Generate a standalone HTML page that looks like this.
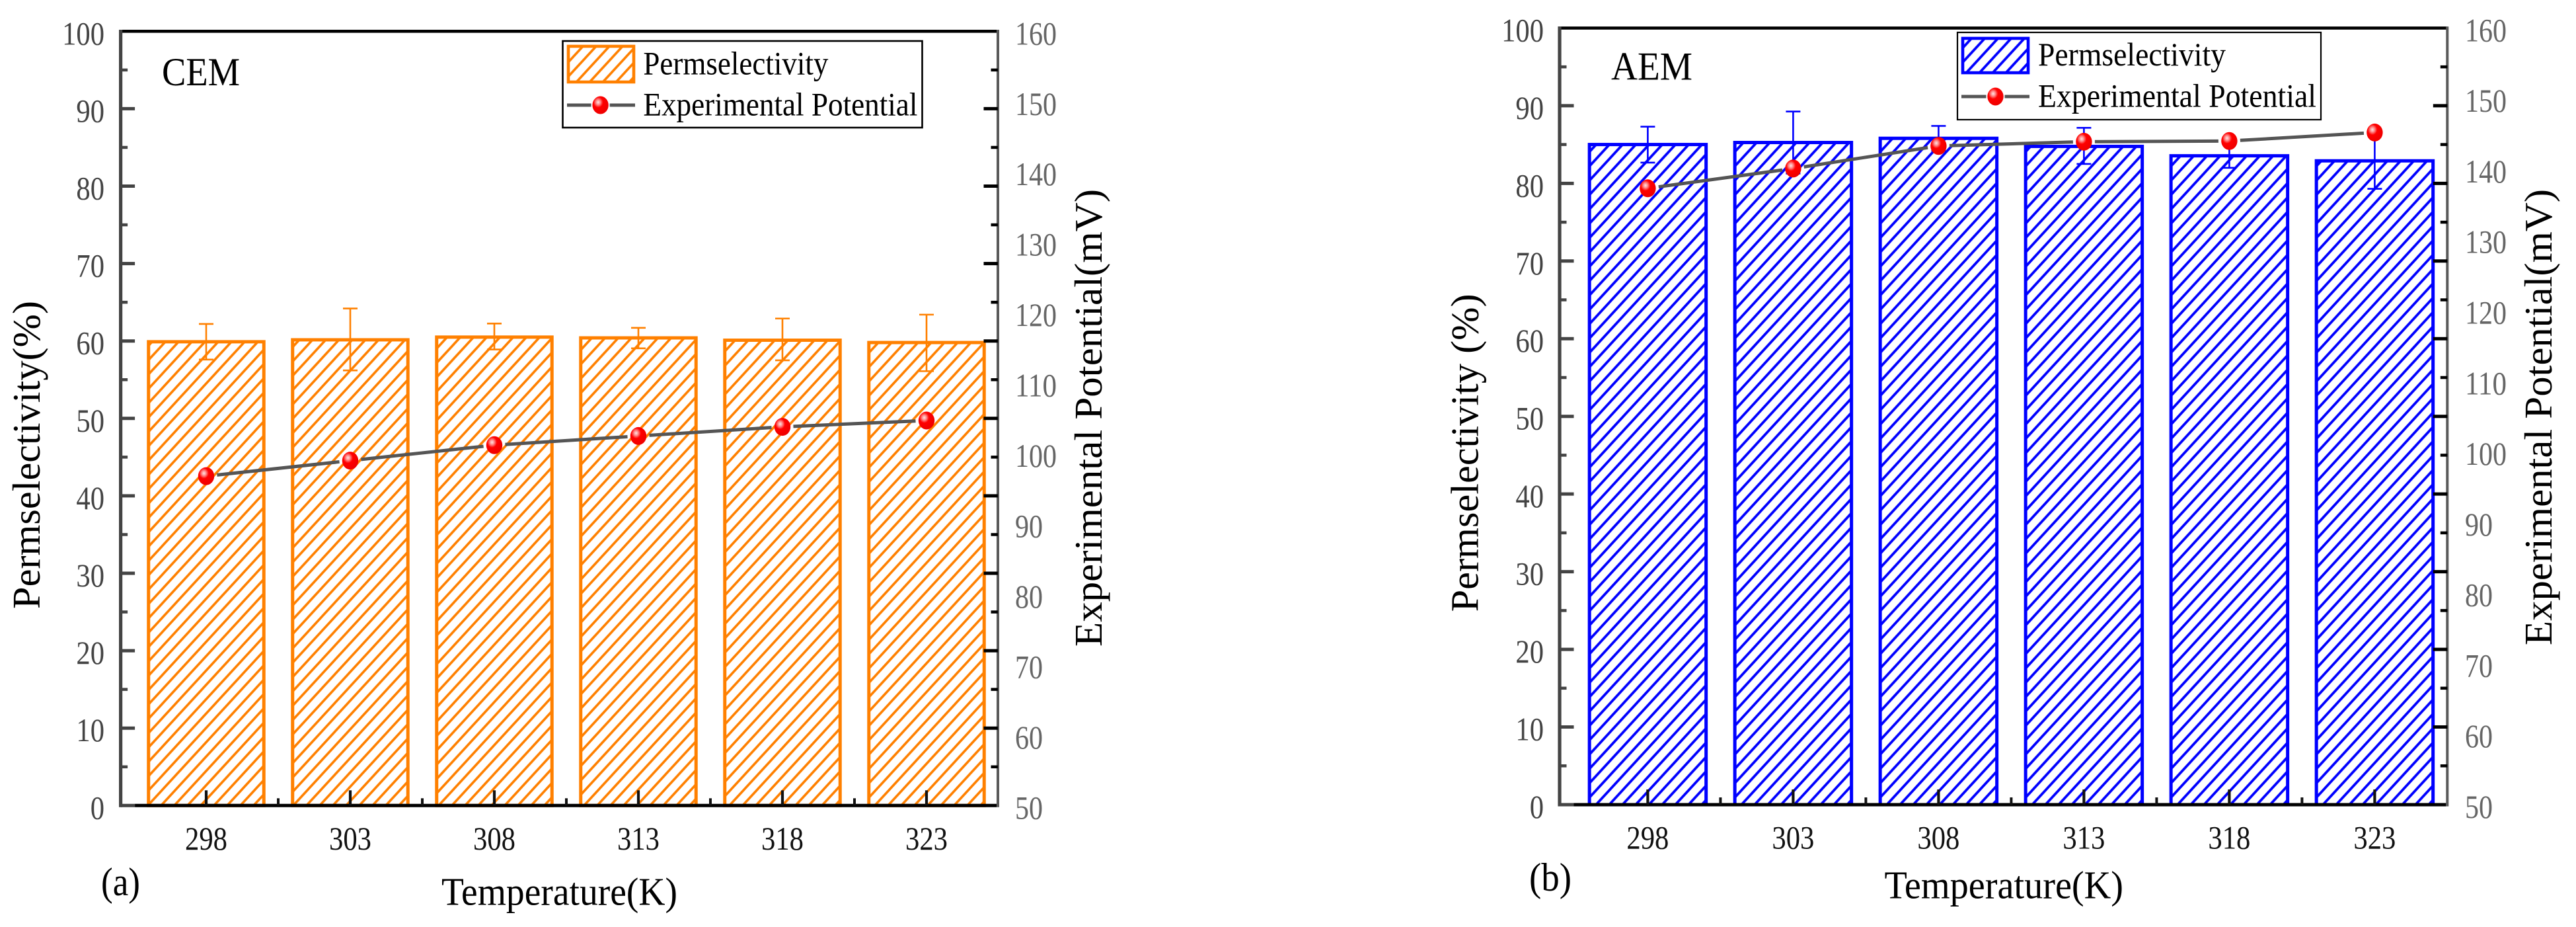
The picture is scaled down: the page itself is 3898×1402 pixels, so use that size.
<!DOCTYPE html>
<html lang="en">
<head>
<meta charset="utf-8">
<title>Permselectivity and experimental potential of CEM and AEM</title>
<style>
  html, body { margin: 0; padding: 0; background: #fff; width: 3898px; height: 1402px; overflow: hidden; }
  svg { position: absolute; left: 0; top: 0; display: block; }
  text { font-family: "Liberation Serif", "Times New Roman", serif; }
</style>
</head>
<body>
<svg id="chart" xmlns="http://www.w3.org/2000/svg" width="3898" height="1402" viewBox="0 0 3898 1402">
  <defs>
    <pattern id="hatch-orange" patternUnits="userSpaceOnUse" width="20" height="21.7" patternTransform="translate(6.6,0)">
      <path d="M-2 23.87 L22 -2.17 M-2 2.17 L2 -2.17 M18 23.87 L22 19.53" stroke="#FF8000" stroke-width="3.6" fill="none"/>
    </pattern>
    <pattern id="hatch-blue" patternUnits="userSpaceOnUse" width="20" height="21.7" patternTransform="translate(16.8,0)">
      <path d="M-2 23.87 L22 -2.17 M-2 2.17 L2 -2.17 M18 23.87 L22 19.53" stroke="#0000FF" stroke-width="3.8" fill="none"/>
    </pattern>
    <radialGradient id="marker-shine" cx="0.36" cy="0.34" r="0.62">
      <stop offset="0" stop-color="#FFE4E4"/>
      <stop offset="0.22" stop-color="#FF8C8C"/>
      <stop offset="0.48" stop-color="#FF0000"/>
      <stop offset="1" stop-color="#F00000"/>
    </radialGradient>
  </defs>
  <rect x="0" y="0" width="3898" height="1402" fill="#ffffff"/>
</svg>
<script>
// ---- chart data ----
const categories = ['298', '303', '308', '313', '318', '323'];
const leftTickLabels = [0, 10, 20, 30, 40, 50, 60, 70, 80, 90, 100];
const leftMinorTicks = [5, 15, 25, 35, 45, 55, 65, 75, 85, 95];
const rightTickLabels = [50, 60, 70, 80, 90, 100, 110, 120, 130, 140, 150, 160];

const cemPermselectivity = [59.9, 60.15, 60.5, 60.4, 60.1, 59.8];
const cemErrorUpper = [62.2, 64.2, 62.25, 61.7, 62.9, 63.4];
const cemErrorLower = [57.6, 56.2, 58.9, 59.05, 57.5, 56.1];
const cemPotential = [96.8, 99.0, 101.2, 102.5, 103.8, 104.7];

const aemPermselectivity = [85.0, 85.26, 85.8, 84.76, 83.55, 82.9];
const aemErrorUpper = [87.3, 89.25, 87.4, 87.15, 85.1, 86.5];
const aemErrorLower = [82.67, 81.27, 84.2, 82.5, 82.0, 79.3];
const aemPotential = [137.3, 140.1, 143.3, 143.9, 144.0, 145.2];

const leftDomain = [0, 100];
const rightDomain = [50, 160];

// ---- layout of the two panels ----
const cemLayout = {
  id: 'cem', color: '#FF8000', hatch: 'url(#hatch-orange)',
  perm: cemPermselectivity, up: cemErrorUpper, low: cemErrorLower, pot: cemPotential,
  axisL: 182.6, axisR: 1510, y0: 1218.3, yTop: 47.3, x0: 312, dx: 218, barW: 174.5,
  leftLabelEnd: 158, rightLabelStart: 1536, xLabelBase: 1285,
  tag: 'CEM', tagX: 245, tagW: 118, tagBase: 129,
  sub: '(a)', subX: 153, subW: 59, subBase: 1354,
  xTitleX: 668, xTitleW: 357, xTitleBase: 1368.7,
  lTitle: 'Permselectivity(%)', lTitleX: 60, lTitleY: 921, lTitleL: 466,
  rTitleX: 1667, rTitleY: 978, rTitleL: 692,
  legend: { x: 851.5, y: 62, w: 544, h: 131, sw: 2.6, sx: 858, sy: 68, sW: 103, sH: 58, lineY: 159, mx: 908.6,
            tx: 973.4, t1W: 280, t1B: 112.7, t2W: 415, t2B: 174.3 }
};
const aemLayout = {
  id: 'aem', color: '#0000FF', hatch: 'url(#hatch-blue)',
  perm: aemPermselectivity, up: aemErrorUpper, low: aemErrorLower, pot: aemPotential,
  axisL: 2360, axisR: 3703.3, y0: 1217, yTop: 42.4, x0: 2493.4, dx: 220, barW: 176.5,
  leftLabelEnd: 2336, rightLabelStart: 3730, xLabelBase: 1283.5,
  tag: 'AEM', tagX: 2438, tagW: 123, tagBase: 120.5,
  sub: '(b)', subX: 2314, subW: 64, subBase: 1347,
  xTitleX: 2851.5, xTitleW: 361.5, xTitleBase: 1358.5,
  lTitle: 'Permselectivity (%)', lTitleX: 2236.7, lTitleY: 925.4, lTitleL: 481,
  rTitleX: 3861, rTitleY: 976, rTitleL: 690,
  legend: { x: 2962, y: 49, w: 550, h: 132, sw: 2.2, sx: 2968, sy: 56, sW: 103, sH: 56, lineY: 146, mx: 3019.5,
            tx: 3084, t1W: 284, t1B: 99, t2W: 421, t2B: 161.6 }
};

const NS = 'http://www.w3.org/2000/svg';
const root = document.getElementById('chart');

function make(tag, attrs, parent) {
  const node = document.createElementNS(NS, tag);
  for (const key in attrs) node.setAttribute(key, attrs[key]);
  parent.appendChild(node);
  return node;
}
function label(str, x, y, size, width, fill, parent) {
  const t = make('text', { x: x, y: y, 'font-size': size, fill: fill, textLength: width, lengthAdjust: 'spacingAndGlyphs' }, parent);
  t.textContent = str;
  return t;
}
function rotatedLabel(str, x, y, size, width, fill, parent) {
  const t = make('text', { x: 0, y: 0, 'font-size': size, fill: fill, textLength: width, lengthAdjust: 'spacingAndGlyphs',
    transform: 'translate(' + x + ',' + y + ') rotate(-90)' }, parent);
  t.textContent = str;
  return t;
}
function marker(cx, cy, parent) {
  return make('ellipse', { cx: cx, cy: cy, rx: 12.2, ry: 13.5, fill: 'url(#marker-shine)' }, parent);
}

function drawPanel(p) {
  const g = make('g', {}, root);
  
  

  const xPos = i => p.x0 + i * p.dx;
  const yLeft = v => p.y0 - (v - leftDomain[0]) / (leftDomain[1] - leftDomain[0]) * (p.y0 - p.yTop);
  const yRight = v => p.y0 - (v - rightDomain[0]) / (rightDomain[1] - rightDomain[0]) * (p.y0 - p.yTop);

  // bars
  categories.forEach((c, i) => {
    const top = yLeft(p.perm[i]);
    const bg = make('rect', { x: xPos(i) - p.barW / 2, y: top, width: p.barW, height: p.y0 - top, fill: '#fff' }, g);
    
    
    const bar = make('rect', { x: xPos(i) - p.barW / 2, y: top, width: p.barW, height: p.y0 - top, fill: p.hatch, stroke: p.color, 'stroke-width': 5 }, g);
    
    
  });

  // error bars
  categories.forEach((c, i) => {
    const e = make('path', {
      d: 'M' + xPos(i) + ' ' + yLeft(p.up[i]) + 'V' + yLeft(p.low[i]) +
         'M' + (xPos(i) - 11) + ' ' + yLeft(p.up[i]) + 'h22' +
         'M' + (xPos(i) - 11) + ' ' + yLeft(p.low[i]) + 'h22',
      stroke: p.color, 'stroke-width': 2.6, fill: 'none' }, g);
    
    
  });

  // frame
  const topLine = make('line', { x1: p.axisL - 2.5, x2: p.axisR, y1: p.yTop, y2: p.yTop, stroke: '#000', 'stroke-width': 4.6 }, g);
  
  
  const leftAxis = make('line', { x1: p.axisL, x2: p.axisL, y1: p.yTop - 2.3, y2: p.y0 + 2.5, stroke: '#444', 'stroke-width': 5.2 }, g);
  
  
  const rightAxis = make('line', { x1: p.axisR, x2: p.axisR, y1: p.yTop - 2.3, y2: p.y0 + 2.5, stroke: '#5a5a5a', 'stroke-width': 4 }, g);
  
  
  const bottomLeft = make('line', { x1: p.axisL, x2: p.axisL + 21.5, y1: p.y0, y2: p.y0, stroke: '#444', 'stroke-width': 5 }, g);
  
  
  const bottomAxis = make('line', { x1: p.axisL + 21.5, x2: p.axisR - 2, y1: p.y0, y2: p.y0, stroke: '#000', 'stroke-width': 5 }, g);
  
  

  // left axis ticks and labels, plus mirrored ticks on the right spine
  leftTickLabels.forEach(v => {
    const y = yLeft(v);
    if (v > leftDomain[0] && v < leftDomain[1]) {
      const t = make('line', { x1: p.axisL, x2: p.axisL + 21.5, y1: y, y2: y, stroke: '#444', 'stroke-width': 5 }, g);
      
      
      const r = make('line', { x1: p.axisR - 21.5, x2: p.axisR, y1: y, y2: y, stroke: '#000', 'stroke-width': 5 }, g);
      
      
    }
    const w = String(v).length * 21.3;
    const l = label(String(v), p.leftLabelEnd - w, y + 20, 49.5, w, '#444', g);
    
    
  });
  leftMinorTicks.forEach(v => {
    const y = yLeft(v);
    const t = make('line', { x1: p.axisL, x2: p.axisL + 10.5, y1: y, y2: y, stroke: '#444', 'stroke-width': 4.5 }, g);
    
    
    const r = make('line', { x1: p.axisR - 10.5, x2: p.axisR, y1: y, y2: y, stroke: '#000', 'stroke-width': 4.5 }, g);
    
    
  });

  // right axis labels
  rightTickLabels.forEach(v => {
    const w = String(v).length * 21;
    const l = label(String(v), p.rightLabelStart, yRight(v) + 20, 49.5, w, '#666', g);
    
    
  });

  // x ticks and labels
  categories.forEach((c, i) => {
    const t = make('line', { x1: xPos(i), x2: xPos(i), y1: p.y0, y2: p.y0 - 23, stroke: '#111', 'stroke-width': 4.2 }, g);
    
    
    if (i < categories.length - 1) {
      const m = make('line', { x1: xPos(i + 0.5), x2: xPos(i + 0.5), y1: p.y0, y2: p.y0 - 11, stroke: '#111', 'stroke-width': 4 }, g);
      
      
    }
    const l = label(c, xPos(i) - 32, p.xLabelBase, 49.5, 64, '#111', g);
    
    
  });

  // potential line with gaps around the markers
  const gap = 16.5;
  for (let i = 0; i < categories.length - 1; i++) {
    const ax = xPos(i), ay = yRight(p.pot[i]), bx = xPos(i + 1), by = yRight(p.pot[i + 1]);
    const len = Math.hypot(bx - ax, by - ay), ux = (bx - ax) / len, uy = (by - ay) / len;
    const s = make('line', { x1: ax + ux * gap, y1: ay + uy * gap, x2: bx - ux * gap, y2: by - uy * gap, stroke: '#555', 'stroke-width': 5 }, g);
    
    
  }
  categories.forEach((c, i) => {
    const m = marker(xPos(i), yRight(p.pot[i]), g);
    
    
  });

  // panel annotations and titles
  const tag = label(p.tag, p.tagX, p.tagBase, 60, p.tagW, '#000', g);
  
  
  const sub = label(p.sub, p.subX, p.subBase, 60, p.subW, '#000', g);
  
  
  const xt = label('Temperature(K)', p.xTitleX, p.xTitleBase, 59, p.xTitleW, '#000', g);
  
  
  const lt = rotatedLabel(p.lTitle, p.lTitleX, p.lTitleY, 59, p.lTitleL, '#000', g);
  
  
  const rt = rotatedLabel('Experimental Potential(mV)', p.rTitleX, p.rTitleY, 59, p.rTitleL, '#000', g);
  
  

  // legend
  const L = p.legend;
  const lg = make('g', {}, g);
  
  
  const box = make('rect', { x: L.x, y: L.y, width: L.w, height: L.h, fill: '#fff', stroke: '#000', 'stroke-width': L.sw }, lg);
  
  
  const swatch = make('rect', { x: L.sx + 2, y: L.sy + 2, width: L.sW - 4, height: L.sH - 4, fill: p.hatch, stroke: p.color, 'stroke-width': 4.6 }, lg);
  
  
  const t1 = label('Permselectivity', L.tx, L.t1B, 49.5, L.t1W, '#000', lg);
  
  
  const l1 = make('line', { x1: L.sx, x2: L.mx - 14, y1: L.lineY, y2: L.lineY, stroke: '#555', 'stroke-width': 5 }, lg);
  
  
  const l2 = make('line', { x1: L.mx + 14, x2: L.sx + L.sW, y1: L.lineY, y2: L.lineY, stroke: '#555', 'stroke-width': 5 }, lg);
  
  
  const lm = marker(L.mx, L.lineY, lg);
  
  
  const t2 = label('Experimental Potential', L.tx, L.t2B, 49.5, L.t2W, '#000', lg);
  
  
}

drawPanel(cemLayout);
drawPanel(aemLayout);
</script>
</body>
</html>
